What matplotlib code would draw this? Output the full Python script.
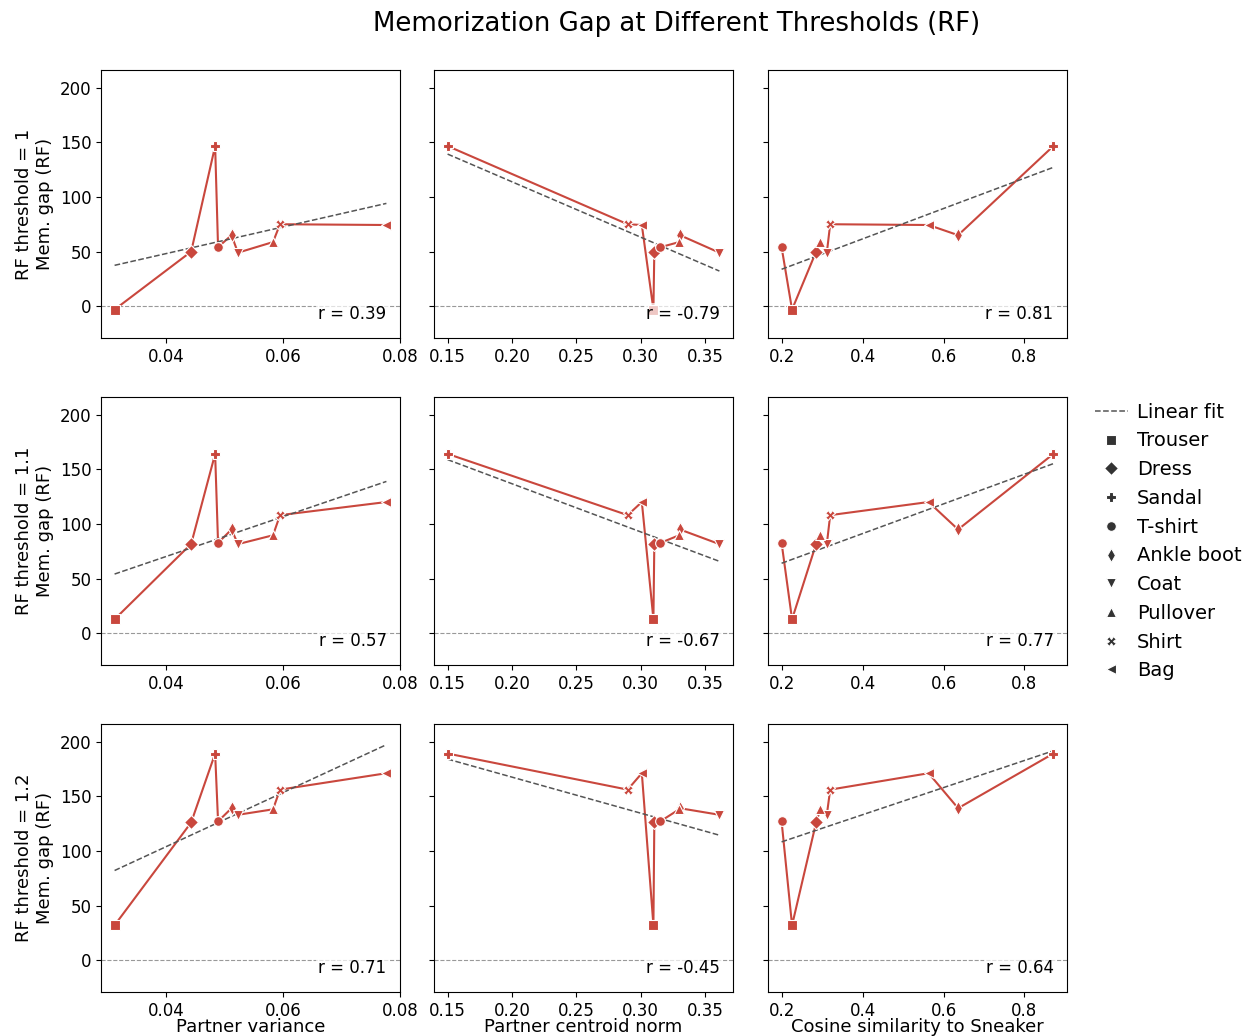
import numpy as np
import matplotlib
matplotlib.use("Agg")
import matplotlib.pyplot as plt
from matplotlib.lines import Line2D

classes = ["Trouser", "Dress", "Sandal", "T-shirt", "Ankle boot", "Coat", "Pullover", "Shirt", "Bag"]
markers = ["s", "D", "P", "o", "d", "v", "^", "X", "<"]

partner_variance = [0.0312, 0.0443, 0.0484, 0.0489, 0.0512, 0.0523, 0.0583, 0.0595, 0.0777]
centroid_norm = [0.310, 0.3107, 0.150, 0.3154, 0.3306, 0.3613, 0.330, 0.290, 0.301]
cos_sneaker = [0.2249, 0.2845, 0.872, 0.199, 0.636, 0.311, 0.295, 0.3193, 0.563]

gap_t1 = [-3, 50, 146.5, 54, 65, 49, 58.7, 75, 74.3]
gap_t11 = [12.8, 81.7, 164, 82.6, 94.9, 81.5, 89.6, 108, 120]
gap_t12 = [32, 126, 189, 127, 139, 133, 138, 156, 171]

thresholds = ["1", "1.1", "1.2"]
x_labels = ["Partner variance", "Partner centroid norm", "Cosine similarity to Sneaker"]
r_values = [[0.39, -0.79, 0.81], [0.57, -0.67, 0.77], [0.71, -0.45, 0.64]]

xs = [partner_variance, centroid_norm, cos_sneaker]
ys = [gap_t1, gap_t11, gap_t12]

color = "#c9473d"

fig = plt.figure(figsize=(12.52, 10.36), dpi=100)
W, H = 1252, 1036
lefts = [101, 434, 768]
tops = [70, 397, 724]
aw, ah = 299, 268

axes = [[None] * 3 for _ in range(3)]
for i in range(3):
    for j in range(3):
        kw = {}
        if i > 0 or j > 0:
            kw["sharey"] = axes[0][0]
        if i > 0:
            kw["sharex"] = axes[0][j]
        ax = fig.add_axes([lefts[j] / W, 1 - (tops[i] + ah) / H, aw / W, ah / H], **kw)
        axes[i][j] = ax

for i in range(3):
    for j in range(3):
        ax = axes[i][j]
        x = np.array(xs[j], dtype=float)
        y = np.array(ys[i], dtype=float)
        order = np.argsort(x, kind="stable")
        ax.axhline(0, color="#999999", lw=0.8, ls="--", zorder=1)
        ax.plot(x[order], y[order], color=color, lw=1.5, zorder=2)
        for k in range(len(classes)):
            ax.plot(x[k], y[k], marker=markers[k], color=color, ms=7,
                    mec="white", mew=0.8, ls="none", zorder=3)
        m, b = np.polyfit(x, y, 1)
        xf = np.array([x.min(), x.max()])
        ax.plot(xf, m * xf + b, color="#555555", lw=1.1, ls="--", zorder=2)
        ax.text(0.955, 0.055, f"r = {r_values[i][j]:.2f}", transform=ax.transAxes,
                ha="right", va="bottom", fontsize=12,
                bbox=dict(facecolor="white", edgecolor="none", alpha=0.7, pad=1.5), zorder=4)
        ax.tick_params(labelsize=12)
        if j > 0:
            plt.setp(ax.get_yticklabels(), visible=False)
        else:
            ax.set_ylabel(f"RF threshold = {thresholds[i]}\nMem. gap (RF)", fontsize=13)
        if i < 2:
            plt.setp(ax.get_xticklabels(), visible=True)
        else:
            ax.set_xlabel(x_labels[j], fontsize=13, labelpad=-1.5)

axes[0][0].set_ylim(-29, 216)
axes[0][0].set_yticks([0, 50, 100, 150, 200])
axes[0][0].set_xticks([0.04, 0.06, 0.08])
axes[0][1].set_xticks([0.15, 0.20, 0.25, 0.30, 0.35])
axes[0][2].set_xticks([0.2, 0.4, 0.6, 0.8])

fig.suptitle("Memorization Gap at Different Thresholds (RF)", fontsize=18.7, x=677 / W, y=0.989)

handles = [Line2D([0], [0], color="#555555", ls="--", lw=1.1, label="Linear fit")]
for c, mk in zip(classes, markers):
    handles.append(Line2D([0], [0], marker=mk, color="#333333", ls="none", ms=7,
                          mec="white", mew=0.8, label=c))
fig.legend(handles=handles, loc="upper left", bbox_to_anchor=(1087 / W, 1 - 395 / H),
           frameon=False, fontsize=14, handlelength=1.7, handletextpad=0.46,
           labelspacing=0.5, borderaxespad=0)

fig.savefig("out.png", dpi=100)
